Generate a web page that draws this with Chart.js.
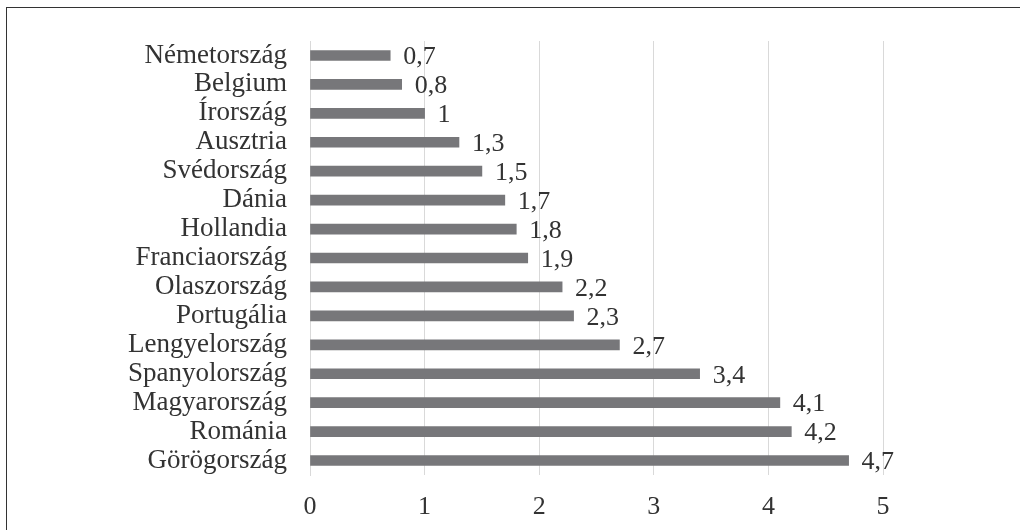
<!DOCTYPE html>
<html>
<head>
<meta charset="utf-8">
<script src="https://cdn.jsdelivr.net/npm/chart.js@4/dist/chart.umd.min.js"></script>
<style>
  html, body { margin: 0; padding: 0; background: #fff; overflow: hidden; }
  #wrap { position: relative; width: 1020px; height: 530px; }
  #frame { position: absolute; left: 6px; top: 7px; width: 2000px; height: 2000px; border: 1.5px solid #333; box-sizing: border-box; }
  canvas { position: absolute; left: 0; top: 0; }
</style>
</head>
<body>
<div id="wrap">
  <div id="frame"></div>
  <canvas id="chart" width="1020" height="530"></canvas>
</div>
<script>
const countries = ['Németország', 'Belgium', 'Írország', 'Ausztria', 'Svédország', 'Dánia', 'Hollandia',
  'Franciaország', 'Olaszország', 'Portugália', 'Lengyelország', 'Spanyolország', 'Magyarország',
  'Románia', 'Görögország'];
const values = [0.7, 0.8, 1, 1.3, 1.5, 1.7, 1.8, 1.9, 2.2, 2.3, 2.7, 3.4, 4.1, 4.2, 4.7];
const xTicks = [0, 1, 2, 3, 4, 5];

const FONT = "'Liberation Serif', 'Times New Roman', serif";
const TEXT = '#333333';

// value labels to the right of each bar, with decimal comma
const valueLabels = {
  id: 'valueLabels',
  afterDatasetsDraw(chart) {
    const ctx = chart.ctx;
    const meta = chart.getDatasetMeta(0);
    ctx.save();
    ctx.font = '26px ' + FONT;
    ctx.fillStyle = TEXT;
    ctx.textAlign = 'left';
    ctx.textBaseline = 'middle';
    meta.data.forEach((bar, i) => {
      ctx.fillText(String(values[i]).replace('.', ','), bar.x + 13, bar.y + 2);
    });
    ctx.restore();
  }
};

new Chart(document.getElementById('chart'), {
  type: 'bar',
  data: {
    labels: countries,
    datasets: [{
      data: values,
      backgroundColor: '#77777a',
      barThickness: 10
    }]
  },
  options: {
    indexAxis: 'y',
    responsive: false,
    devicePixelRatio: 1,
    animation: false,
    layout: { padding: { top: 41, right: 137, bottom: 0, left: 0 } },
    plugins: { legend: { display: false }, tooltip: { enabled: false } },
    scales: {
      x: {
        min: 0,
        max: 5,
        afterBuildTicks(s) { s.ticks = xTicks.map(v => ({ value: v })); },
        afterFit(s) { s.height = 55; },
        ticks: { color: TEXT, font: { family: FONT, size: 26 }, padding: 17 },
        grid: { color: '#d9d9d9', drawTicks: false },
        border: { display: false }
      },
      y: {
        afterFit(s) { s.width = 310; },
        ticks: { color: TEXT, font: { family: FONT, size: 27 }, padding: 23, autoSkip: false },
        grid: { display: false, drawTicks: false },
        border: { display: true, color: '#d9d9d9' }
      }
    }
  },
  plugins: [valueLabels]
});
</script>
</body>
</html>
